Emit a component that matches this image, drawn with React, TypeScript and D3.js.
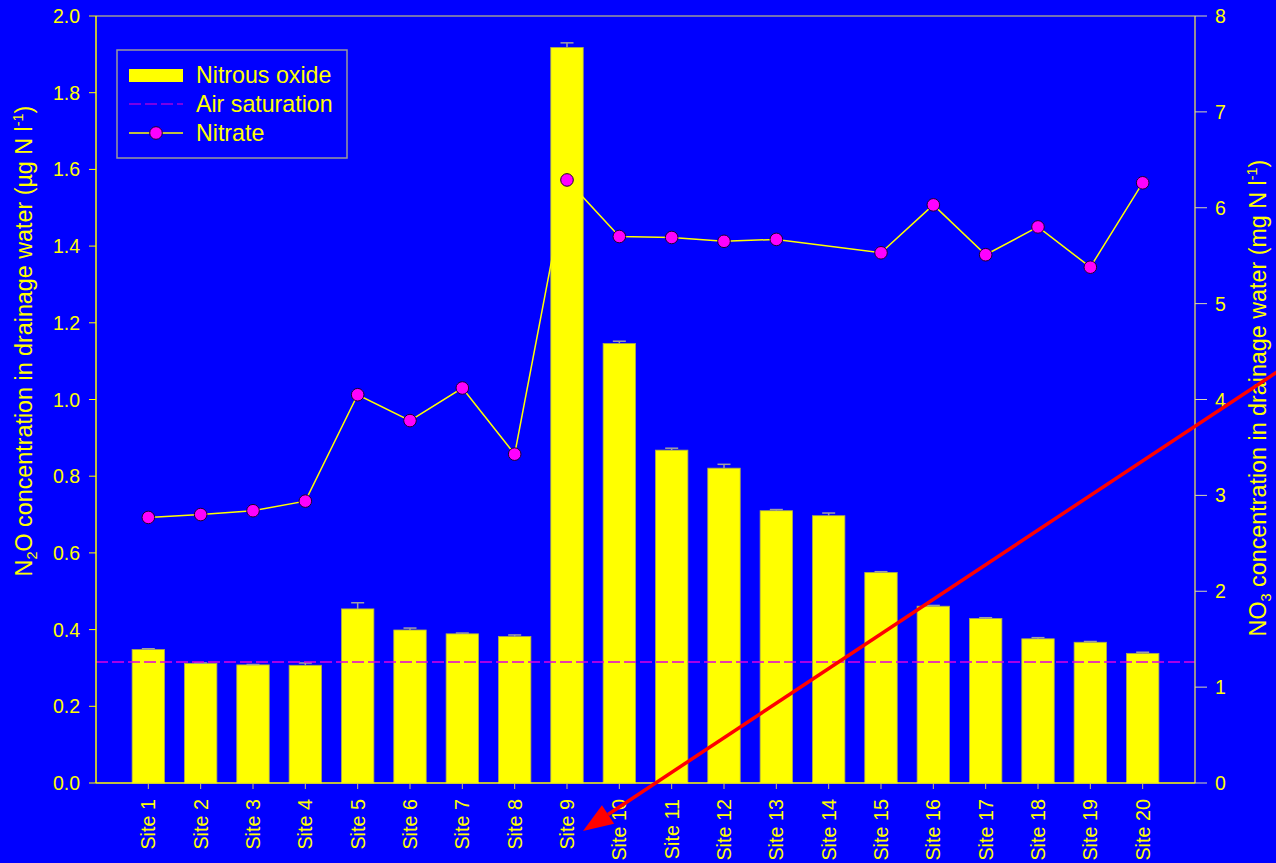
import React, { useEffect } from "react";
import * as d3 from "d3";

// Sampling sites along the x axis
const SITES = [
  "Site 1", "Site 2", "Site 3", "Site 4", "Site 5", "Site 6", "Site 7", "Site 8", "Site 9", "Site 10",
  "Site 11", "Site 12", "Site 13", "Site 14", "Site 15", "Site 16", "Site 17", "Site 18", "Site 19", "Site 20",
];

// Dissolved N2O (µg N l-1), mean and upper error
const N2O_MEAN = [
  0.348, 0.312, 0.308, 0.307, 0.454, 0.399, 0.389, 0.382, 1.918, 1.146,
  0.868, 0.821, 0.710, 0.697, 0.549, 0.461, 0.429, 0.376, 0.367, 0.338,
];
const N2O_ERR = [
  0.002, 0.001, 0.001, 0.006, 0.016, 0.005, 0.002, 0.004, 0.012, 0.006,
  0.005, 0.010, 0.003, 0.007, 0.002, 0.002, 0.002, 0.003, 0.002, 0.003,
];

// Nitrate (mg N l-1); no reading at Site 14
const NITRATE: (number | null)[] = [
  2.77, 2.80, 2.84, 2.94, 4.05, 3.78, 4.12, 3.43, 6.29, 5.70,
  5.69, 5.65, 5.67, null, 5.53, 6.03, 5.51, 5.80, 5.38, 6.26,
];

// Air-equilibrium N2O concentration
const AIR_SATURATION = 0.3155;

const LEFT_TICKS = [0, 0.2, 0.4, 0.6, 0.8, 1.0, 1.2, 1.4, 1.6, 1.8, 2.0];
const RIGHT_TICKS = [0, 1, 2, 3, 4, 5, 6, 7, 8];

const LEGEND_LABELS = ["Nitrous oxide", "Air saturation", "Nitrate"];

const W = 1276;
const H = 863;
const FONT = "'Liberation Sans', Arial, Helvetica, sans-serif";
const BG = "#0000ff";
const YELLOW = "#ffff00";

export default function App() {
  useEffect(() => {
    document.body.style.margin = "0";
    document.body.style.background = BG;
  }, []);

  const plot = { left: 96, right: 1195, top: 16, bottom: 783 };

  const x = d3.scalePoint<string>().domain(SITES).range([plot.left, plot.right]).padding(1);
  const barW = x.step() * 0.62;
  const yL = d3.scaleLinear().domain([0, 2]).range([plot.bottom, plot.top]);
  const yR = d3.scaleLinear().domain([0, 8]).range([plot.bottom, plot.top]);

  const nitratePts = SITES.map((s, i) => ({ s, v: NITRATE[i] })).filter((d) => d.v !== null) as {
    s: string;
    v: number;
  }[];
  const nitrateLine = d3
    .line<{ s: string; v: number }>()
    .x((d) => x(d.s)!)
    .y((d) => yR(d.v))(nitratePts);

  // Red pointer arrow from the right edge down to the Site 9 label
  const tip: [number, number] = [x("Site 9")! + 16, plot.bottom + 48];
  const tail: [number, number] = [W + 10, yR(4.28) - 6.6];
  const ang = Math.atan2(tip[1] - tail[1], tip[0] - tail[0]);
  const headLen = 30;
  const headHalf = 11;
  const bx = tip[0] - headLen * Math.cos(ang);
  const by = tip[1] - headLen * Math.sin(ang);
  const head = [
    tip,
    [bx + headHalf * Math.sin(ang), by - headHalf * Math.cos(ang)],
    [bx - headHalf * Math.sin(ang), by + headHalf * Math.cos(ang)],
  ];

  const leg = { x: 117, y: 50, w: 230, h: 108 };
  const rowY = [75, 104, 133];

  return (
    <div style={{ position: "fixed", left: 0, top: 0, width: W, height: H, background: BG }}>
      <svg width={W} height={H} style={{ display: "block", fontFamily: FONT }}>
        <rect x={0} y={0} width={W} height={H} fill={BG} />

        {/* top frame */}
        <line x1={plot.left} x2={plot.right} y1={plot.top} y2={plot.top} stroke="#9a9a9a" strokeWidth={1.5} />

        {/* bars */}
        {SITES.map((s, i) => (
          <rect
            key={s}
            x={x(s)! - barW / 2}
            y={yL(N2O_MEAN[i])}
            width={barW}
            height={yL(0) - yL(N2O_MEAN[i])}
            fill={YELLOW}
            stroke="#a8a850"
            strokeWidth={0.8}
          />
        ))}

        {/* error bars */}
        {SITES.map((s, i) => {
          const cx = x(s)!;
          const top = yL(N2O_MEAN[i] + N2O_ERR[i]);
          return (
            <g key={"e" + s} stroke="#a0a0a0" strokeWidth={1.5}>
              <line x1={cx} x2={cx} y1={yL(N2O_MEAN[i])} y2={top} />
              <line x1={cx - 6.5} x2={cx + 6.5} y1={top} y2={top} />
            </g>
          );
        })}

        {/* air saturation */}
        <line
          x1={plot.left}
          x2={plot.right}
          y1={yL(AIR_SATURATION)}
          y2={yL(AIR_SATURATION)}
          stroke="#e000e0"
          strokeWidth={1.5}
          strokeDasharray="12 4"
        />

        {/* nitrate line and markers */}
        <path d={nitrateLine ?? ""} fill="none" stroke={YELLOW} strokeWidth={1.5} />
        {nitratePts.map((d) => (
          <circle key={"n" + d.s} cx={x(d.s)} cy={yR(d.v)} r={6.3} fill="#ff00ff" stroke="#1a0030" strokeWidth={1} />
        ))}

        {/* left axis */}
        <line x1={plot.left} x2={plot.left} y1={plot.top} y2={plot.bottom} stroke={YELLOW} strokeWidth={1.5} />
        {LEFT_TICKS.map((t) => (
          <g key={"l" + t}>
            <line x1={plot.left - 7} x2={plot.left} y1={yL(t)} y2={yL(t)} stroke={YELLOW} strokeWidth={1} />
            <text x={80} y={yL(t) + 7} textAnchor="end" fontSize={19.5} fill={YELLOW}>
              {d3.format(".1f")(t)}
            </text>
          </g>
        ))}

        {/* right axis */}
        <line x1={plot.right} x2={plot.right} y1={plot.top} y2={plot.bottom} stroke="#c8c070" strokeWidth={1.5} />
        {RIGHT_TICKS.map((t) => (
          <g key={"r" + t}>
            <line x1={plot.right} x2={plot.right + 12} y1={yR(t)} y2={yR(t)} stroke="#d8d8b0" strokeWidth={1} />
            <text x={1215} y={yR(t) + 7} textAnchor="start" fontSize={19.5} fill={YELLOW}>
              {t}
            </text>
          </g>
        ))}

        {/* bottom axis */}
        <line x1={plot.left} x2={plot.right} y1={plot.bottom} y2={plot.bottom} stroke={YELLOW} strokeWidth={1.5} />
        {SITES.map((s) => (
          <g key={"x" + s}>
            <line x1={x(s)} x2={x(s)} y1={plot.bottom} y2={plot.bottom + 6} stroke="#c8c070" strokeWidth={1} />
            <text
              transform={`translate(${x(s)! + 7},${plot.bottom + 16}) rotate(-90)`}
              textAnchor="end"
              fontSize={19.8}
              fill={YELLOW}
            >
              {s}
            </text>
          </g>
        ))}

        {/* axis titles */}
        <text transform="translate(32,341) rotate(-90)" textAnchor="middle" fontSize={23.3} fill={YELLOW}>
          <tspan>N</tspan>
          <tspan fontSize={14.5} dy={5}>2</tspan>
          <tspan dy={-5}>O concentration in drainage water (µg N l</tspan>
          <tspan fontSize={14.5} dy={-9}>-1</tspan>
          <tspan dy={9}>)</tspan>
        </text>
        <text transform="translate(1266,398) rotate(-90)" textAnchor="middle" fontSize={23.3} fill={YELLOW}>
          <tspan>NO</tspan>
          <tspan fontSize={14.5} dy={5}>3</tspan>
          <tspan dy={-5}> concentration in drainage water (mg N l</tspan>
          <tspan fontSize={14.5} dy={-9}>-1</tspan>
          <tspan dy={9}>)</tspan>
        </text>

        {/* legend */}
        <rect x={leg.x} y={leg.y} width={leg.w} height={leg.h} fill="none" stroke="#9a9a9a" strokeWidth={1.5} />
        <rect x={129} y={rowY[0] - 6} width={54} height={13} fill={YELLOW} />
        <line x1={129} x2={183} y1={rowY[1]} y2={rowY[1]} stroke="#a000e0" strokeWidth={1.5} strokeDasharray="12 4" />
        <line x1={129} x2={183} y1={rowY[2]} y2={rowY[2]} stroke={YELLOW} strokeWidth={1.5} />
        <circle cx={156} cy={rowY[2]} r={6.3} fill="#ff00ff" stroke="#1a0030" strokeWidth={1} />
        {LEGEND_LABELS.map((l, i) => (
          <text key={l} x={196} y={rowY[i] + 8} fontSize={23.2} fill={YELLOW}>
            {l}
          </text>
        ))}

        {/* pointer arrow */}
        <line x1={tail[0]} y1={tail[1]} x2={bx} y2={by} stroke="#ff0000" strokeWidth={3.5} />
        <polygon points={head.map((p) => p.join(",")).join(" ")} fill="#ff0000" />
      </svg>
    </div>
  );
}
